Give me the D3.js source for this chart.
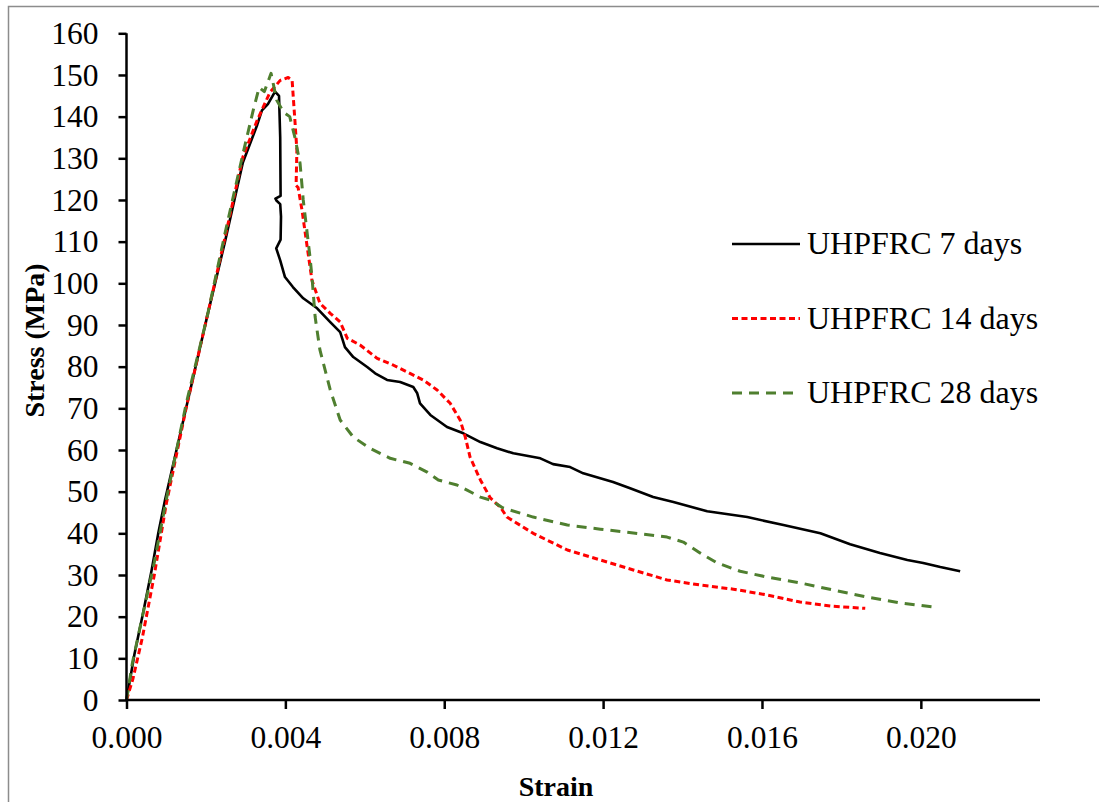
<!DOCTYPE html>
<meta charset="utf-8">
<style>
  body { margin: 0; background: #fff; }
  text { font-family: "Liberation Serif", "Times New Roman", serif; fill: #000; }
</style>
<body>
<script src="https://cdn.jsdelivr.net/npm/d3@7"></script>
<script>

var width = 1099,
  height = 802;

// strain, stress (MPa)
var days7 = [
  [0, 0], [0.0002, 11], [0.00042, 21], [0.00063, 31], [0.0008, 40], [0.00097, 48],
  [0.0015, 70], [0.00203, 92], [0.00248, 110], [0.00293, 129], [0.00329, 138],
  [0.00341, 141.5], [0.00356, 143], [0.00374, 146], [0.00384, 145], [0.00387, 135],
  [0.00388, 121], [0.00375, 120.3], [0.00378, 119.8], [0.00387, 119], [0.00389, 116],
  [0.00388, 110.5], [0.00377, 108.4], [0.00387, 105.5], [0.00399, 101.5], [0.00419, 99.1],
  [0.00445, 96.4], [0.0048, 94.0], [0.00513, 90.7], [0.00538, 88.3], [0.0055, 84.7],
  [0.00571, 82.3], [0.00606, 79.9], [0.00626, 78.4], [0.00656, 76.8], [0.00689, 76.3],
  [0.00722, 75.1], [0.00732, 73.6], [0.00739, 71.2], [0.00765, 68.4], [0.00807, 65.5],
  [0.00848, 64.0], [0.00891, 61.9], [0.00933, 60.4], [0.00974, 59.2], [0.01042, 58.0],
  [0.01074, 56.6], [0.01117, 55.9], [0.0115, 54.4], [0.01225, 52.3], [0.01268, 50.8],
  [0.01326, 48.7], [0.01377, 47.5], [0.01462, 45.3], [0.01563, 43.9], [0.01654, 42.0],
  [0.01747, 40.0], [0.01822, 37.4], [0.01897, 35.3], [0.01966, 33.6], [0.02006, 32.9],
  [0.02049, 31.9], [0.02099, 30.9]
];

var days14 = [
  [0, 0], [0.00016, 5], [0.0004, 15], [0.0007, 30], [0.001, 47], [0.0015, 70],
  [0.00203, 92], [0.00248, 111], [0.00293, 130.3], [0.00329, 139.1], [0.00361, 145.8],
  [0.00387, 148.7], [0.00407, 149.4], [0.00417, 148.7], [0.00424, 139.1], [0.00429, 131.9],
  [0.00427, 123.5], [0.00432, 123], [0.00442, 117.5], [0.00455, 108.7], [0.00467, 100.7],
  [0.00487, 95.2], [0.00513, 92.8], [0.00538, 90.7], [0.00556, 86.8], [0.00588, 85.2],
  [0.00631, 82.0], [0.00671, 80.4], [0.00707, 78.7], [0.00747, 76.8], [0.00782, 74.4],
  [0.00815, 71.2], [0.0084, 67.2], [0.00853, 63.1], [0.00865, 58.3], [0.00891, 52.8],
  [0.00916, 48.5], [0.00941, 46.3], [0.00958, 43.9], [0.01024, 40.0], [0.0111, 36.0],
  [0.01193, 33.6], [0.01276, 31.2], [0.01361, 28.8], [0.01444, 27.6], [0.01528, 26.6],
  [0.01613, 25.2], [0.01696, 23.5], [0.01779, 22.5], [0.0186, 22.0]
];

var days28 = [
  [0, 0], [0.00015, 9], [0.0004, 20], [0.0007, 33], [0.001, 48], [0.0015, 71],
  [0.00203, 92], [0.00248, 112], [0.00293, 131], [0.00319, 141.5], [0.00334, 147],
  [0.00347, 146], [0.00364, 150.4], [0.00378, 144], [0.00396, 141], [0.00411, 140],
  [0.00424, 135], [0.00437, 128.8], [0.00445, 120], [0.00455, 112], [0.00462, 106.3],
  [0.00467, 101.5], [0.00475, 91.9], [0.00487, 84], [0.00513, 74.4], [0.00538, 67.2],
  [0.00571, 63.1], [0.00613, 60.4], [0.00664, 58.0], [0.00714, 56.8], [0.00757, 54.7],
  [0.00785, 52.8], [0.00832, 51.6], [0.00891, 48.7], [0.00916, 48.0], [0.00948, 46.1],
  [0.01024, 43.9], [0.0111, 42.0], [0.01193, 41.0], [0.01276, 40.1], [0.01361, 39.1],
  [0.01402, 37.9], [0.01444, 35.3], [0.01487, 32.9], [0.01545, 30.9], [0.01613, 29.5],
  [0.01696, 28.1], [0.01779, 26.4], [0.01865, 24.7], [0.01948, 23.3], [0.02032, 22.3]
];

var seriesNames = ["UHPFRC 7 days", "UHPFRC 14 days", "UHPFRC 28 days"];
var xTicks = [0, 0.004, 0.008, 0.012, 0.016, 0.020];
var yTicks = [0, 10, 20, 30, 40, 50, 60, 70, 80, 90, 100, 110, 120, 130, 140, 150, 160];

var styles = [
  { color: "#000000", dash: null, w: 2.6 },
  { color: "#ff0000", dash: "6,3.5", w: 3 },
  { color: "#4f7f2f", dash: "10,7", w: 3 }
];

var svg = d3.select("body").append("svg")
  .attr("width", width)
  .attr("height", height);

// chart border (only top and left visible in frame)
svg.append("path")
  .attr("d", "M8.5," + height + "V6.5H" + width)
  .attr("fill", "none")
  .attr("stroke", "#8c8c8c")
  .attr("stroke-width", 1.5);

var x = d3.scaleLinear().domain([0, 0.023]).range([126.5, 1040]);
var y = d3.scaleLinear().domain([0, 160]).range([700, 33.3]);

var line = d3.line()
  .x(function(d) { return x(d[0]); })
  .y(function(d) { return y(d[1]); });

var curves = svg.append("g");
[days7, days14, days28].forEach(function(data, i) {
  curves.append("path")
    .datum(data)
    .attr("d", line)
    .attr("fill", "none")
    .attr("stroke", styles[i].color)
    .attr("stroke-width", styles[i].w)
    .attr("stroke-dasharray", styles[i].dash)
    .attr("stroke-linejoin", "round");
});

var xAxis = svg.append("g")
  .attr("transform", "translate(0,700)")
  .call(d3.axisBottom(x).tickValues(xTicks).tickSize(9).tickPadding(17)
    .tickFormat(d3.format(".3f")));

var yAxis = svg.append("g")
  .attr("transform", "translate(126.5,0)")
  .call(d3.axisLeft(y).tickValues(yTicks).tickSize(8).tickPadding(20));

[xAxis, yAxis].forEach(function(g) {
  g.selectAll("path, line").attr("stroke", "#000").attr("stroke-width", 2.5);
  g.select(".domain").attr("d", function() {
    return g === xAxis ? "M126.5,0H1040" : "M0,700V33.3";
  });
  g.selectAll("text")
    .style("font-family", "'Liberation Serif', 'Times New Roman', serif")
    .style("font-size", "31.5px")
    .attr("fill", "#000");
});

svg.append("text")
  .attr("transform", "translate(44,340.5) rotate(-90)")
  .attr("text-anchor", "middle")
  .style("font-size", "28px")
  .style("font-weight", "bold")
  .text("Stress (MPa)");

svg.append("text")
  .attr("x", 556)
  .attr("y", 796)
  .attr("text-anchor", "middle")
  .style("font-size", "28px")
  .style("font-weight", "bold")
  .text("Strain");

// legend
var legendY = [244, 318.5, 393];
var legend = svg.append("g");
seriesNames.forEach(function(name, i) {
  legend.append("line")
    .attr("x1", 732).attr("x2", 800)
    .attr("y1", legendY[i]).attr("y2", legendY[i])
    .attr("stroke", styles[i].color)
    .attr("stroke-width", styles[i].w)
    .attr("stroke-dasharray", styles[i].dash);
  legend.append("text")
    .attr("x", 807)
    .attr("y", legendY[i] + 10)
    .style("font-size", "32px")
    .text(name);
});

</script>
</body>
</html>
